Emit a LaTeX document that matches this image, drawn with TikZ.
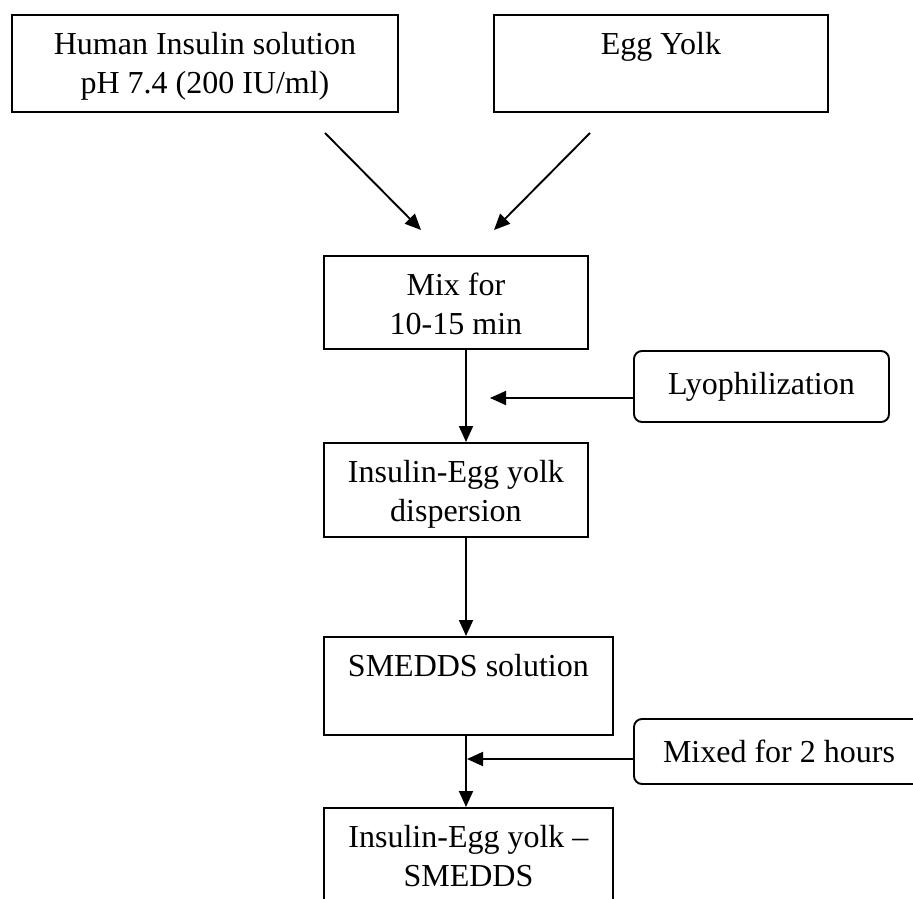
\documentclass[tikz,border=0pt]{standalone}
\usepackage{fontspec}
\setmainfont{Liberation Serif}
\usetikzlibrary{arrows.meta}
\newcommand\flowfs{\fontsize{16}{19.5}\selectfont}
\newcommand\flowtext[3]{\parbox[c][#2][t]{#1}{\flowfs\centering\rule{0pt}{20pt}#3}}
\begin{document}
\begin{tikzpicture}[x=0.5pt,y=-0.5pt,
  tbox/.style={draw, line width=0.95pt, inner sep=0pt, anchor=north west},
  rbox/.style={draw, line width=0.95pt, rounded corners=4pt, inner sep=0pt, align=center, font=\flowfs},
  arr/.style={-{Triangle[length=8pt,width=7pt]}, line width=0.95pt}]
\useasboundingbox (0,0) rectangle (913,898);
\clip (0,0) rectangle (913,898);

% top boxes
\node[tbox] (ins) at (11,14) {\flowtext{193pt}{48.5pt}{Human Insulin solution\\pH 7.4 (200 IU/ml)}};
\node[tbox] (egg) at (493,14) {\flowtext{167pt}{48.5pt}{Egg Yolk}};

% main column
\node[tbox] (mix) at (323,255) {\flowtext{132pt}{46.5pt}{Mix for\\10-15 min}};
\node[tbox] (disp) at (323,442) {\flowtext{132pt}{47pt}{Insulin-Egg yolk\\dispersion}};
\node[tbox] (smedds) at (323,636) {\flowtext{144.5pt}{49pt}{SMEDDS solution}};
\node[tbox] (final) at (323,807) {\flowtext{144.5pt}{60pt}{Insulin-Egg yolk --\\SMEDDS}};

% side boxes
\node[rbox, minimum width=127.5pt, minimum height=35.5pt] (lyo) at (761.5,386.5) {Lyophilization};
\node[rbox, minimum width=145pt, minimum height=32.5pt] (mixed) at (779,751.5) {Mixed for 2 hours};

% coordinates
\coordinate (a1s) at (325,133);
\coordinate (a1e) at (421,230);
\coordinate (a2s) at (590,133);
\coordinate (a2e) at (494,230);
\coordinate (axis) at (466,0);
\coordinate (lyoend) at (490,398);
\coordinate (mixedend) at (467,759);

% connectors
\draw[arr] (a1s) -- (a1e);
\draw[arr] (a2s) -- (a2e);
\draw[arr] (mix.south -| axis) -- (disp.north -| axis);
\draw[arr] (disp.south -| axis) -- (smedds.north -| axis);
\draw[arr] (smedds.south -| axis) -- (final.north -| axis);
\draw[arr] (lyo.west |- lyoend) -- (lyoend);
\draw[arr] (mixed.west |- mixedend) -- (mixedend);
\end{tikzpicture}
\end{document}
